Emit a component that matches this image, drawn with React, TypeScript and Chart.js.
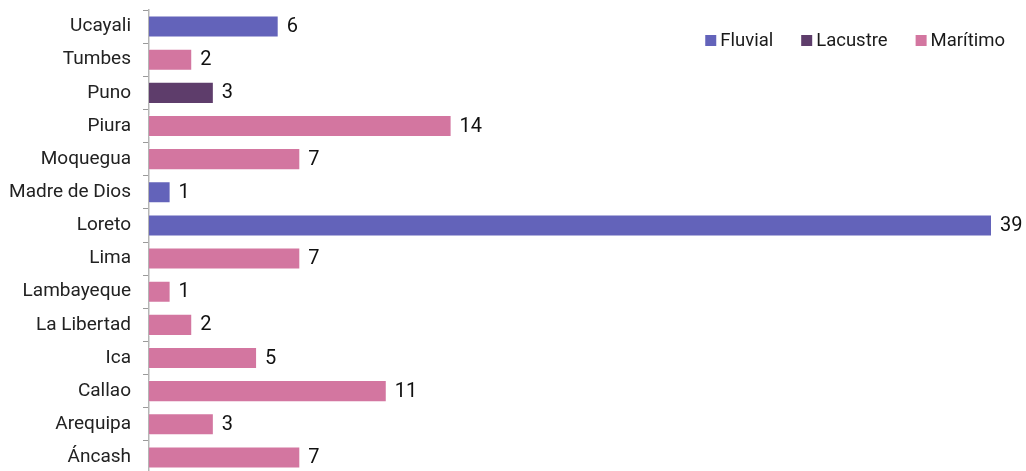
import React, { useEffect, useRef } from "react";
import { Chart, registerables } from "chart.js";

Chart.register(...registerables);

const categories = [
  "Ucayali", "Tumbes", "Puno", "Piura", "Moquegua", "Madre de Dios", "Loreto",
  "Lima", "Lambayeque", "La Libertad", "Ica", "Callao", "Arequipa", "Áncash",
];
const fluvial = [6, null, null, null, null, 1, 39, null, null, null, null, null, null, null];
const lacustre = [null, null, 3, null, null, null, null, null, null, null, null, null, null, null];
const maritimo = [null, 2, null, 14, 7, null, null, 7, 1, 2, 5, 11, 3, 7];
const seriesNames = ["Fluvial", "Lacustre", "Marítimo"];
const seriesColors = ["#6363BA", "#5E3D6B", "#D376A0"];

const FONT = "Roboto, 'Noto Sans', sans-serif";

const valueLabels = {
  id: "valueLabels",
  afterDatasetsDraw(chart: any) {
    const ctx = chart.ctx;
    ctx.save();
    ctx.font = `20px ${FONT}`;
    ctx.fillStyle = "#111111";
    ctx.textBaseline = "middle";
    ctx.textAlign = "left";
    chart.data.datasets.forEach((ds: any, di: number) => {
      const meta = chart.getDatasetMeta(di);
      ds.data.forEach((v: any, i: number) => {
        if (v === null || v === undefined) return;
        const el = meta.data[i];
        ctx.fillText(String(v), el.x + 8, el.y + 0.5);
      });
    });
    ctx.restore();
  },
};

const customLegend = {
  id: "customLegend",
  afterDraw(chart: any) {
    const ctx = chart.ctx;
    ctx.save();
    ctx.font = `18.5px ${FONT}`;
    ctx.textBaseline = "middle";
    ctx.textAlign = "left";
    const box = 11;
    const gapText = 4;
    const gapItem = 28;
    const widths = seriesNames.map((n) => ctx.measureText(n).width);
    const total = widths.reduce((a, w) => a + box + gapText + w, 0) + gapItem * (seriesNames.length - 1);
    let x = chart.width - 21 - total;
    const cy = 32.5;
    seriesNames.forEach((n, i) => {
      ctx.fillStyle = seriesColors[i];
      ctx.fillRect(x, cy - box / 2, box, box);
      ctx.fillStyle = "#1a1a1a";
      ctx.fillText(n, x + box + gapText, cy + 1);
      x += box + gapText + widths[i] + gapItem;
    });
    ctx.restore();
  },
};

export default function App() {
  const ref = useRef<HTMLCanvasElement | null>(null);
  useEffect(() => {
    if (!ref.current) return;
    const series = [fluvial, lacustre, maritimo];
    const chart = new Chart(ref.current, {
      type: "bar",
      data: {
        labels: categories,
        datasets: series.map((d, i) => ({
          label: seriesNames[i],
          data: d,
          backgroundColor: seriesColors[i],
          borderColor: "rgba(255,255,255,0.5)",
          borderWidth: 1,
          barPercentage: 0.665,
          categoryPercentage: 1,
        })),
      },
      options: {
        indexAxis: "y",
        animation: false,
        responsive: true,
        maintainAspectRatio: false,
        layout: { padding: { top: 2, right: 34, bottom: 0, left: 0 } },
        plugins: {
          legend: { display: false },
          tooltip: { enabled: false },
        },
        scales: {
          x: {
            display: false,
            stacked: true,
            min: 0,
            max: 39,
          },
          y: {
            stacked: true,
            afterFit: (scale: any) => {
              scale.width = 141;
              scale.paddingTop = 0;
              scale.paddingBottom = 0;
            },
            grid: {
              display: true,
              drawOnChartArea: false,
              offset: true,
              tickLength: 6,
              color: "#9a9a9a",
            },
            border: { display: true, color: "#b5b5b5", width: 1.5 },
            ticks: {
              padding: 12,
              color: "#222222",
              font: { family: FONT, size: 19 },
            },
          },
        },
      },
      plugins: [valueLabels, customLegend],
    });
    return () => chart.destroy();
  }, []);
  return (
    <div style={{ position: "fixed", top: 8, left: 8, width: 1018, height: 466 }}>
      <canvas ref={ref} />
    </div>
  );
}
